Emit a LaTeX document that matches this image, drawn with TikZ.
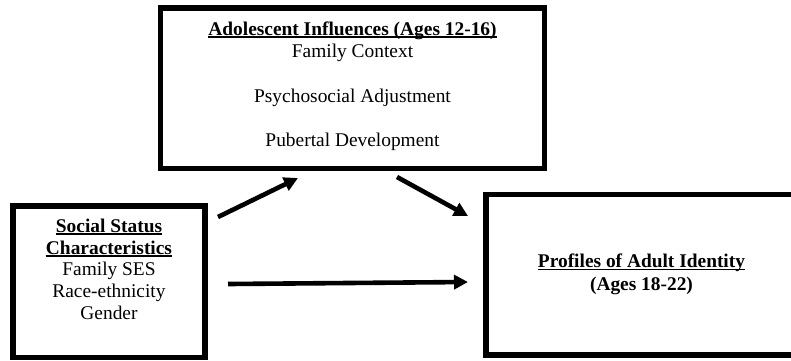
\documentclass[tikz,border=0pt]{standalone}
\usepackage{fontspec}
\setmainfont{Liberation Serif}
\usetikzlibrary{arrows.meta}
\newcommand\myul[1]{\setbox0\hbox{#1}\rlap{\rule[-2.6pt]{\wd0}{1.3pt}}\box0}
\tikzset{
  box/.style={draw, line width=5.5pt, inner sep=0pt},
  txt/.style={anchor=base, inner sep=0pt, font=\fontsize{19.4}{22}\selectfont},
  arr/.style={line width=4.6pt, -{Triangle[length=14pt,width=14pt]}}
}
\begin{document}
\begin{tikzpicture}[x=1pt,y=-1pt]
\useasboundingbox (0,0) rectangle (791,360);
% boxes
\node[box, minimum width=384pt, minimum height=160.5pt] (adol) at (352.5,88.25) {};
\node[box, minimum width=192pt, minimum height=151.5pt] (soc) at (109,281.75) {};
\node[box, minimum width=314pt, minimum height=160.3pt] (prof) at (643,274.85) {};
% texts top box
\node[txt] (t1) at (352.5,35) {\bfseries\myul{Adolescent Influences (Ages 12-16)}};
\node[txt] (t2) at (352.5,57) {Family Context};
\node[txt] (t3) at (352.5,102) {Psychosocial Adjustment};
\node[txt] (t4) at (352.5,146) {Pubertal Development};
% texts left box
\node[txt] (s1) at (109,232) {\bfseries\myul{Social Status}};
\node[txt] (s2) at (109,254) {\bfseries\myul{Characteristics}};
\node[txt] (s3) at (109,275.5) {Family SES};
\node[txt] (s4) at (109,297.5) {Race-ethnicity};
\node[txt] (s5) at (109,319.5) {Gender};
% texts right box
\node[txt] (p1) at (641.5,267.5) {\bfseries\myul{Profiles of Adult Identity}};
\node[txt] (p2) at (641.5,290) {\bfseries (Ages 18-22)};
% arrow endpoints
\coordinate (a1s) at (218,217);
\coordinate (a1e) at (298,178);
\coordinate (a2s) at (397,177);
\coordinate (a2e) at (468,216);
\coordinate (a3s) at (228,284);
\coordinate (a3e) at (468,282);
\draw[arr] (a1s) -- (a1e);
\draw[arr] (a2s) -- (a2e);
\draw[arr] (a3s) -- (a3e);
\end{tikzpicture}
\end{document}
